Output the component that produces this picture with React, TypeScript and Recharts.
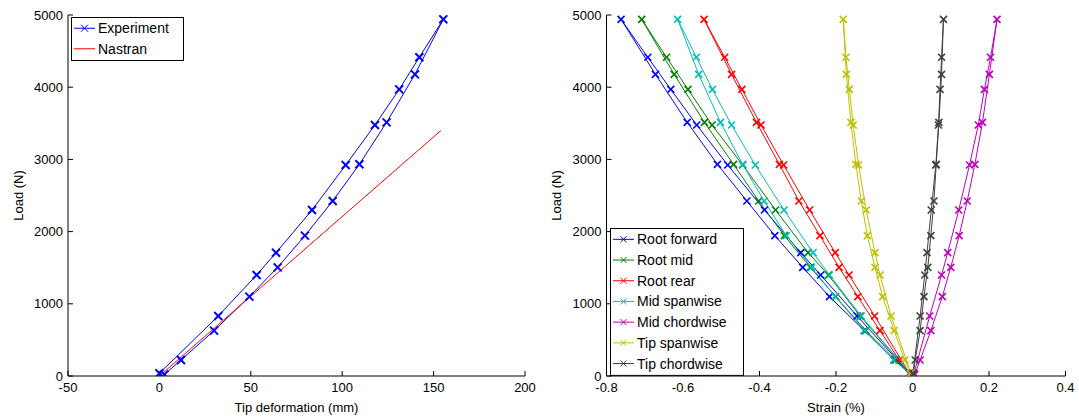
import { LineChart, Line, XAxis, YAxis } from 'recharts'

const FONT = '"Liberation Sans", Arial, Helvetica, sans-serif'

// load steps of the test: loading up to the max, then unloading
const loadSteps = [37, 831, 1399, 1708, 2299, 2922, 3476, 3970, 4414, 4940, 4178, 3513, 2932, 2424, 1944, 1505, 1099, 628, 222, 20]

// tip deformation (mm) measured at each load step
const tipDeformation = [0, 32.2, 53.2, 63.8, 83.5, 101.9, 117.9, 131.2, 142.2, 155.3, 139.8, 124.3, 109.4, 94.8, 79.6, 64.7, 49.2, 29.9, 11.8, 2.7]

// Nastran linear prediction
const nastranDeformation = [0, 154]
const nastranLoad = [0, 3400]

// strain gauges (%), same load steps
const rootForward = [-0.008, -0.145, -0.240, -0.292, -0.387, -0.483, -0.564, -0.632, -0.692, -0.762, -0.672, -0.589, -0.510, -0.433, -0.360, -0.287, -0.217, -0.126, -0.048, -0.004]
const rootMid = [-0.006, -0.137, -0.220, -0.273, -0.358, -0.444, -0.524, -0.587, -0.643, -0.708, -0.623, -0.544, -0.468, -0.402, -0.335, -0.267, -0.201, -0.122, -0.044, -0.004]
const rootRear = [-0.008, -0.099, -0.166, -0.202, -0.269, -0.337, -0.396, -0.446, -0.491, -0.545, -0.473, -0.408, -0.348, -0.297, -0.242, -0.192, -0.143, -0.085, -0.035, -0.006]
const midSpanwise = [-0.006, -0.134, -0.217, -0.260, -0.336, -0.411, -0.473, -0.523, -0.565, -0.614, -0.559, -0.502, -0.444, -0.388, -0.330, -0.264, -0.202, -0.125, -0.049, -0.004]
const midChordwise = [0.004, 0.045, 0.076, 0.092, 0.121, 0.149, 0.172, 0.188, 0.204, 0.221, 0.201, 0.183, 0.163, 0.143, 0.122, 0.100, 0.078, 0.048, 0.020, 0.006]
const tipSpanwise = [-0.004, -0.056, -0.085, -0.098, -0.121, -0.141, -0.155, -0.165, -0.174, -0.181, -0.173, -0.161, -0.148, -0.134, -0.118, -0.098, -0.078, -0.048, -0.020, -0.003]
const tipChordwise = [0.001, 0.020, 0.032, 0.038, 0.049, 0.061, 0.068, 0.072, 0.076, 0.081, 0.076, 0.069, 0.062, 0.056, 0.048, 0.040, 0.030, 0.020, 0.007, 0.002]

const loadTicks = [0, 1000, 2000, 3000, 4000, 5000]
const deformationTicks = [-50, 0, 50, 100, 150, 200]
const strainTicks = [-0.8, -0.6, -0.4, -0.2, 0, 0.2, 0.4]

const gauges = [
  { name: 'Root forward', color: '#0000ff', values: rootForward },
  { name: 'Root mid', color: '#008000', values: rootMid },
  { name: 'Root rear', color: '#ff0000', values: rootRear },
  { name: 'Mid spanwise', color: '#00bfbf', values: midSpanwise },
  { name: 'Mid chordwise', color: '#bf00bf', values: midChordwise },
  { name: 'Tip spanwise', color: '#bfbf00', values: tipSpanwise },
  { name: 'Tip chordwise', color: '#404040', values: tipChordwise },
]

const experimentData = loadSteps.map((load, i) => ({ x: tipDeformation[i], load }))
const nastranData = nastranLoad.map((load, i) => ({ x: nastranDeformation[i], load }))

const tickStyle = { fontSize: 13, fill: '#000', fontFamily: FONT }

function xMarker(color: string, size: number, width: number) {
  return (p: any) => {
    const { cx, cy, index } = p
    if (cx == null || cy == null) return <g key={index} />
    const h = size / 2
    return (
      <g key={index} stroke={color} strokeWidth={width}>
        <line x1={cx - h} y1={cy - h} x2={cx + h} y2={cy + h} />
        <line x1={cx - h} y1={cy + h} x2={cx + h} y2={cy - h} />
      </g>
    )
  }
}

function frameAxes(domain: number[], ticks: number[]) {
  return [
    <XAxis
      key="top"
      xAxisId="top"
      orientation="top"
      type="number"
      domain={domain}
      ticks={ticks}
      allowDataOverflow
      tick={false}
      tickSize={-5}
      height={0}
      stroke="#000"
    />,
    <YAxis
      key="right"
      yAxisId="right"
      orientation="right"
      type="number"
      domain={[0, 5000]}
      ticks={loadTicks}
      allowDataOverflow
      tick={false}
      tickSize={-5}
      width={0}
      stroke="#000"
    />,
  ]
}

function loadAxis(width: number, labelOffset: number) {
  return (
    <YAxis
      type="number"
      dataKey="load"
      domain={[0, 5000]}
      ticks={loadTicks}
      interval={0}
      allowDataOverflow
      tickSize={-5}
      tickMargin={10}
      tick={tickStyle}
      stroke="#000"
      width={width}
      label={{
        value: 'Load (N)',
        angle: -90,
        position: 'insideLeft',
        offset: labelOffset,
        fill: '#000',
        fontSize: 13,
        fontFamily: FONT,
        style: { textAnchor: 'middle' },
      }}
    />
  )
}

function LegendBox({ x, y, width, rowHeight, items, fontSize }: any) {
  const height = rowHeight * items.length + 2
  return (
    <svg
      width={width + 2}
      height={height + 2}
      style={{ position: 'absolute', left: x, top: y, overflow: 'visible' }}
    >
      <rect x={0.5} y={0.5} width={width} height={height} fill="#fff" stroke="#000" />
      {items.map((it: any, i: number) => {
        const cy = 1 + rowHeight * (i + 0.5)
        return (
          <g key={it.name}>
            <line x1={3} x2={24} y1={cy} y2={cy} stroke={it.color} strokeWidth={1} />
            {it.marker && xMarker(it.color, it.markerSize, it.markerWidth)({ cx: 13.5, cy, index: 0 })}
            <text x={27} y={cy + 5} fontSize={fontSize} fontFamily={FONT} fill="#000">
              {it.name}
            </text>
          </g>
        )
      })}
    </svg>
  )
}

export default function App() {
  return (
    <div style={{ position: 'absolute', left: 0, top: 0, width: 1079, height: 416, background: '#fff' }}>
      <div style={{ position: 'absolute', left: 0, top: 0 }}>
        <LineChart width={540} height={416} margin={{ top: 15, right: 15, bottom: 0, left: 0 }}>
          <XAxis
            type="number"
            dataKey="x"
            domain={[-50, 200]}
            ticks={deformationTicks}
            interval={0}
            allowDataOverflow
            tickSize={-5}
            tickMargin={12}
            tick={tickStyle}
            stroke="#000"
            height={40}
            label={{
              value: 'Tip deformation (mm)',
              position: 'insideBottom',
              offset: 4,
              fill: '#000',
              fontSize: 13,
              fontFamily: FONT,
            }}
          />
          {loadAxis(68, 18)}
          {frameAxes([-50, 200], deformationTicks)}
          <Line
            data={experimentData}
            dataKey="load"
            stroke="#0000ff"
            strokeWidth={1}
            dot={xMarker('#0000ff', 8, 2)}
            isAnimationActive={false}
          />
          <Line
            data={nastranData}
            dataKey="load"
            stroke="#ff0000"
            strokeWidth={1}
            dot={false}
            isAnimationActive={false}
          />
        </LineChart>
        <LegendBox
          x={71}
          y={17}
          width={112}
          rowHeight={20.5}
          fontSize={14}
          items={[
            { name: 'Experiment', color: '#0000ff', marker: true, markerSize: 7, markerWidth: 1 },
            { name: 'Nastran', color: '#ff0000', marker: false },
          ]}
        />
      </div>

      <div style={{ position: 'absolute', left: 540, top: 0 }}>
        <LineChart width={539} height={416} margin={{ top: 15, right: 13.5, bottom: 0, left: 0 }}>
          <XAxis
            type="number"
            dataKey="strain"
            domain={[-0.8, 0.4]}
            ticks={strainTicks}
            interval={0}
            allowDataOverflow
            tickSize={-5}
            tickMargin={12}
            tick={tickStyle}
            tickFormatter={(v: number) => String(Math.round(v * 10) / 10)}
            stroke="#000"
            height={40}
            label={{
              value: 'Strain (%)',
              position: 'insideBottom',
              offset: 4,
              fill: '#000',
              fontSize: 13,
              fontFamily: FONT,
            }}
          />
          {loadAxis(66.5, 16)}
          {frameAxes([-0.8, 0.4], strainTicks)}
          {gauges.map((g) => (
            <Line
              key={g.name}
              data={loadSteps.map((load, i) => ({ strain: g.values[i], load }))}
              dataKey="load"
              stroke={g.color}
              strokeWidth={1}
              dot={xMarker(g.color, 7, 1.6)}
              isAnimationActive={false}
            />
          ))}
        </LineChart>
        <LegendBox
          x={70}
          y={228}
          width={133}
          rowHeight={20.7}
          fontSize={14}
          items={gauges.map((g) => ({ name: g.name, color: g.color, marker: true, markerSize: 6, markerWidth: 1 }))}
        />
      </div>
    </div>
  )
}
